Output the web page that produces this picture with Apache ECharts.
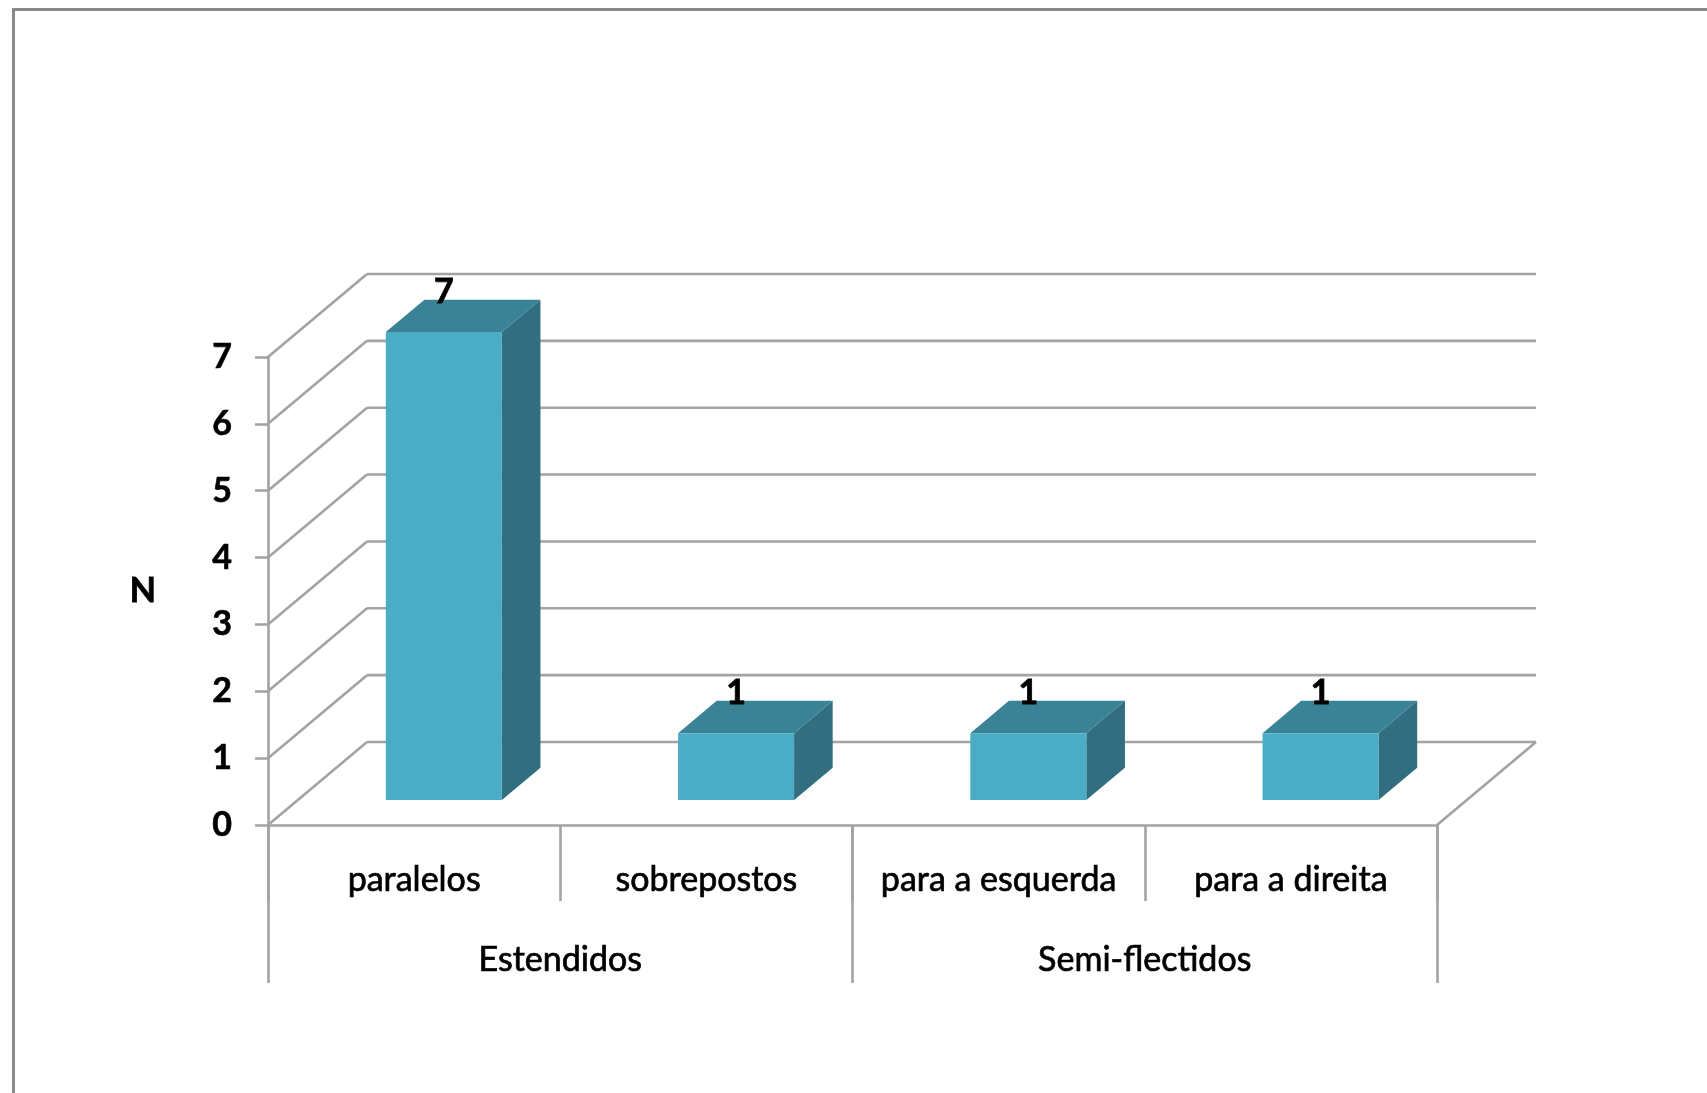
<!DOCTYPE html>
<html>
<head>
<meta charset="utf-8">
<title>Posição dos membros inferiores</title>
<script src="https://cdn.jsdelivr.net/npm/echarts@6/dist/echarts.min.js"></script>
<style>
  html, body { margin: 0; padding: 0; background: #ffffff; }
  #chart { width: 1707px; height: 1093px; }
</style>
</head>
<body>
<div id="chart"></div>
<script>
// Categories (first row) and their groups (second row)
const categories = ['paralelos', 'sobrepostos', 'para a esquerda', 'para a direita'];
const groups = ['Estendidos', 'Semi-flectidos'];
// Counts per category
const counts = [7, 1, 1, 1];
// Value-axis ticks
const yTicks = [0, 1, 2, 3, 4, 5, 6, 7];

// Pseudo-3D look: offset of the back wall relative to the front plane (px)
const DEPTH_X = 99;
const DEPTH_Y = -83;
// Bars sit between these fractions of the depth
const BAR_NEAR = 0.30;
const BAR_FAR = 0.69;
const BAR_FRAC = 0.397;

const GRID_COLOR = '#a3a3a3';
const FONT = 'Lato, "Open Sans", sans-serif';

const chart = echarts.init(document.getElementById('chart'));

// Back wall lines and side wall diagonals for each tick value
function renderWalls(params, api) {
  const v = api.value(0);
  const y = api.coord([0, v])[1];
  const cs = params.coordSys;
  const left = cs.x, right = cs.x + cs.width;
  const style = { stroke: GRID_COLOR, lineWidth: 2.6 };
  const children = [
    { type: 'line', shape: { x1: left, y1: y, x2: left + DEPTH_X, y2: y + DEPTH_Y }, style },
    { type: 'line', shape: { x1: left + DEPTH_X, y1: y + DEPTH_Y, x2: right + DEPTH_X, y2: y + DEPTH_Y }, style }
  ];
  if (v === 0) {
    children.push({ type: 'line', shape: { x1: right, y1: y, x2: right + DEPTH_X, y2: y + DEPTH_Y }, style });
  }
  return { type: 'group', children };
}

// Box-shaped bar: front, top and right-side faces plus value label
function renderBox(params, api) {
  const cat = api.value(0), v = api.value(1);
  const base = api.coord([cat, 0]);
  const top = api.coord([cat, v]);
  const band = api.size([1, 0])[0];
  const w = band * BAR_FRAC;
  const ox = DEPTH_X * BAR_NEAR, oy = DEPTH_Y * BAR_NEAR;
  const dx = DEPTH_X * (BAR_FAR - BAR_NEAR), dy = DEPTH_Y * (BAR_FAR - BAR_NEAR);
  const x0 = base[0] + ox - w / 2, x1 = x0 + w;
  const yb = base[1] + oy, yt = top[1] + oy;
  return {
    type: 'group',
    children: [
      { type: 'polygon', shape: { points: [[x1, yb], [x1 + dx, yb + dy], [x1 + dx, yt + dy], [x1, yt]] },
        style: { fill: '#306e80' } },
      { type: 'polygon', shape: { points: [[x0, yt], [x1, yt], [x1 + dx, yt + dy], [x0 + dx, yt + dy]] },
        style: { fill: '#3a8397' } },
      { type: 'polygon', shape: { points: [[x0, yb], [x1, yb], [x1, yt], [x0, yt]] },
        style: { fill: '#4bacc6' } },
      { type: 'text', x: x0 + w / 2, y: yt - 40, z2: 10,
        style: { text: String(v), fill: '#000', font: 'bold 34px ' + FONT, align: 'center', verticalAlign: 'middle',
                 stroke: '#000', lineWidth: 0.8 } }
    ]
  };
}

const catLabel = { interval: 0, color: '#000', fontSize: 34, fontFamily: FONT,
                   textBorderColor: '#000', textBorderWidth: 0.7 };

chart.setOption({
  backgroundColor: '#ffffff',
  animation: false,
  graphic: [{
    type: 'rect', left: 11, top: 7, z: -10,
    shape: { width: 1800, height: 1200 },
    style: { fill: 'none', stroke: '#8a8a8a', lineWidth: 3 }
  }],
  grid: { left: 268, top: 357, width: 1169, height: 468, containLabel: false },
  xAxis: [{
    type: 'category',
    data: categories,
    boundaryGap: true,
    axisLine: { show: true, lineStyle: { color: GRID_COLOR, width: 2.6 } },
    axisTick: { show: true, interval: 0, length: 76, lineStyle: { color: GRID_COLOR, width: 2.6 } },
    axisLabel: Object.assign({ margin: 38 }, catLabel)
  }, {
    type: 'category',
    data: groups,
    position: 'bottom',
    offset: 0,
    boundaryGap: true,
    axisLine: { show: false },
    axisTick: { show: true, interval: 0, length: 158, lineStyle: { color: GRID_COLOR, width: 2.6 } },
    axisLabel: Object.assign({ margin: 118 }, catLabel)
  }],
  yAxis: {
    type: 'value',
    min: 0, max: 7, interval: 1,
    name: 'N',
    nameLocation: 'middle',
    nameRotate: 0,
    nameGap: 112,
    nameTextStyle: { color: '#000', fontSize: 34, fontWeight: 'bold', fontFamily: FONT, padding: [0, 0, 10, 0],
                     textBorderColor: '#000', textBorderWidth: 0.8 },
    axisLine: { show: true, lineStyle: { color: GRID_COLOR, width: 2.6 } },
    axisTick: { show: true, length: 13, lineStyle: { color: GRID_COLOR, width: 2.6 } },
    splitLine: { show: false },
    axisLabel: { margin: 36, color: '#000', fontSize: 34, fontWeight: 'bold', fontFamily: FONT,
                 textBorderColor: '#000', textBorderWidth: 0.6 }
  },
  series: [{
    type: 'custom',
    name: 'walls',
    z: 1,
    silent: true,
    xAxisIndex: 0, yAxisIndex: 0,
    data: yTicks.map(t => [t]),
    encode: { y: 0 },
    renderItem: renderWalls
  }, {
    type: 'custom',
    name: 'N',
    z: 5,
    xAxisIndex: 0, yAxisIndex: 0,
    data: counts.map((c, i) => [i, c]),
    encode: { x: 0, y: 1 },
    renderItem: renderBox
  }]
});
</script>
</body>
</html>
